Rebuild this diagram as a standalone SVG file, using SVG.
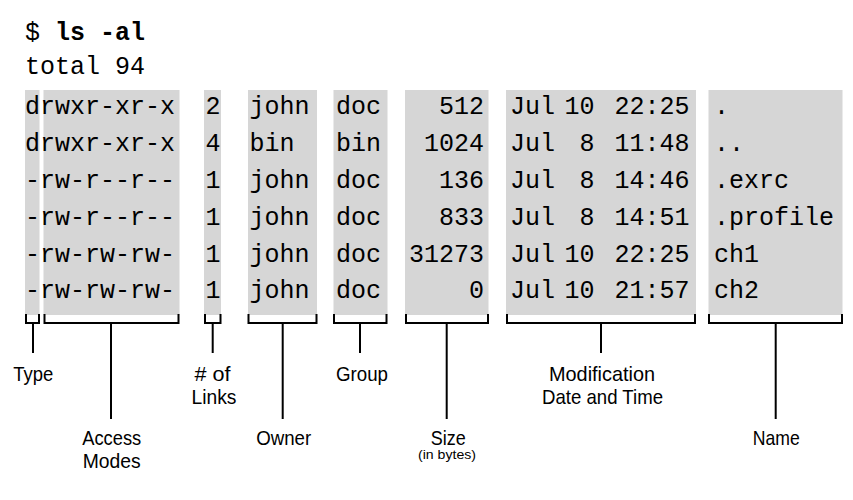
<svg xmlns="http://www.w3.org/2000/svg" width="853" height="500" viewBox="0 0 853 500">
<style>
.bg{fill:#d6d6d6}
.m{font-family:"Liberation Mono","Courier New",monospace;font-size:25px;fill:#000}
.b{font-weight:bold}
.r{text-anchor:end}
.c{text-anchor:middle}
.l{font-family:"Liberation Sans",Arial,sans-serif;font-size:21px;fill:#000;text-anchor:middle}
.s{font-size:13.5px}
.k{fill:none;stroke:#000;stroke-width:2}
</style>
<rect width="853" height="500" fill="#fff"/>
<g id="header">
<text class="m" x="25" y="39.5">$ <tspan class="b">ls -al</tspan></text>
<text class="m" x="25" y="73.5">total 94</text>
</g>
<g id="col-type">
<rect class="bg" x="25" y="90" width="14.5" height="225"/>
</g>
<g id="col-modes">
<rect class="bg" x="43.5" y="90" width="136" height="225"/>
<text class="m" x="25" y="114.3">drwxr-xr-x</text>
<text class="m" x="25" y="151.1">drwxr-xr-x</text>
<text class="m" x="25" y="187.9">-rw-r--r--</text>
<text class="m" x="25" y="224.7">-rw-r--r--</text>
<text class="m" x="25" y="261.5">-rw-rw-rw-</text>
<text class="m" x="25" y="298.3">-rw-rw-rw-</text>
</g>
<g id="col-links">
<rect class="bg" x="204" y="90" width="17" height="225"/>
<text class="m c" x="213" y="114.3">2</text>
<text class="m c" x="213" y="151.1">4</text>
<text class="m c" x="213" y="187.9">1</text>
<text class="m c" x="213" y="224.7">1</text>
<text class="m c" x="213" y="261.5">1</text>
<text class="m c" x="213" y="298.3">1</text>
</g>
<g id="col-owner">
<rect class="bg" x="248" y="90" width="69" height="225"/>
<text class="m" x="249.5" y="114.3">john</text>
<text class="m" x="249.5" y="151.1">bin</text>
<text class="m" x="249.5" y="187.9">john</text>
<text class="m" x="249.5" y="224.7">john</text>
<text class="m" x="249.5" y="261.5">john</text>
<text class="m" x="249.5" y="298.3">john</text>
</g>
<g id="col-group">
<rect class="bg" x="333.5" y="90" width="54" height="225"/>
<text class="m" x="336" y="114.3">doc</text>
<text class="m" x="336" y="151.1">bin</text>
<text class="m" x="336" y="187.9">doc</text>
<text class="m" x="336" y="224.7">doc</text>
<text class="m" x="336" y="261.5">doc</text>
<text class="m" x="336" y="298.3">doc</text>
</g>
<g id="col-size">
<rect class="bg" x="405" y="90" width="83.5" height="225"/>
<text class="m r" x="484" y="114.3">512</text>
<text class="m r" x="484" y="151.1">1024</text>
<text class="m r" x="484" y="187.9">136</text>
<text class="m r" x="484" y="224.7">833</text>
<text class="m r" x="484" y="261.5">31273</text>
<text class="m r" x="484" y="298.3">0</text>
</g>
<g id="col-date">
<rect class="bg" x="506" y="90" width="190" height="225"/>
<text class="m" x="510" y="114.3">Jul</text>
<text class="m" x="510" y="151.1">Jul</text>
<text class="m" x="510" y="187.9">Jul</text>
<text class="m" x="510" y="224.7">Jul</text>
<text class="m" x="510" y="261.5">Jul</text>
<text class="m" x="510" y="298.3">Jul</text>
<text class="m r" x="594.5" y="114.3">10</text>
<text class="m r" x="594.5" y="151.1">8</text>
<text class="m r" x="594.5" y="187.9">8</text>
<text class="m r" x="594.5" y="224.7">8</text>
<text class="m r" x="594.5" y="261.5">10</text>
<text class="m r" x="594.5" y="298.3">10</text>
<text class="m" x="614.5" y="114.3">22:25</text>
<text class="m" x="614.5" y="151.1">11:48</text>
<text class="m" x="614.5" y="187.9">14:46</text>
<text class="m" x="614.5" y="224.7">14:51</text>
<text class="m" x="614.5" y="261.5">22:25</text>
<text class="m" x="614.5" y="298.3">21:57</text>
</g>
<g id="col-name">
<rect class="bg" x="708.5" y="90" width="134" height="225"/>
<text class="m" x="714" y="114.3">.</text>
<text class="m" x="714" y="151.1">..</text>
<text class="m" x="714" y="187.9">.exrc</text>
<text class="m" x="714" y="224.7">.profile</text>
<text class="m" x="714" y="261.5">ch1</text>
<text class="m" x="714" y="298.3">ch2</text>
</g>
<g id="connectors">
<path class="k" d="M26 314V323H39V314M33 323V353"/>
<path class="k" d="M44.5 314V323H178.5V314M111 323V419"/>
<path class="k" d="M205 314V323H220.5V314M212.7 323V353"/>
<path class="k" d="M248.5 314V323H316.5V314M282.7 323V419"/>
<path class="k" d="M334 314V323H386.5V314M360 323V353"/>
<path class="k" d="M406 314V323H488V314M446.7 323V419"/>
<path class="k" d="M507 314V323H695V314M601 323V353"/>
<path class="k" d="M709 314V323H842V314M775.7 323V419"/>
</g>
<g id="labels">
<text class="l" x="33.3" y="381" textLength="40" lengthAdjust="spacingAndGlyphs">Type</text>
<text class="l" x="212.6" y="381" textLength="36" lengthAdjust="spacingAndGlyphs"># of</text>
<text class="l" x="214" y="404.3" textLength="45" lengthAdjust="spacingAndGlyphs">Links</text>
<text class="l" x="362" y="381" textLength="52" lengthAdjust="spacingAndGlyphs">Group</text>
<text class="l" x="602" y="381" textLength="106" lengthAdjust="spacingAndGlyphs">Modification</text>
<text class="l" x="602.5" y="404.3" textLength="121" lengthAdjust="spacingAndGlyphs">Date and Time</text>
<text class="l" x="111.7" y="445" textLength="59" lengthAdjust="spacingAndGlyphs">Access</text>
<text class="l" x="111.7" y="468.3" textLength="58" lengthAdjust="spacingAndGlyphs">Modes</text>
<text class="l" x="283.7" y="445" textLength="55" lengthAdjust="spacingAndGlyphs">Owner</text>
<text class="l" x="448.3" y="445" textLength="35" lengthAdjust="spacingAndGlyphs">Size</text>
<text class="l s" x="447" y="459" textLength="58" lengthAdjust="spacingAndGlyphs">(in bytes)</text>
<text class="l" x="776.3" y="445" textLength="47" lengthAdjust="spacingAndGlyphs">Name</text>
</g>
</svg>
